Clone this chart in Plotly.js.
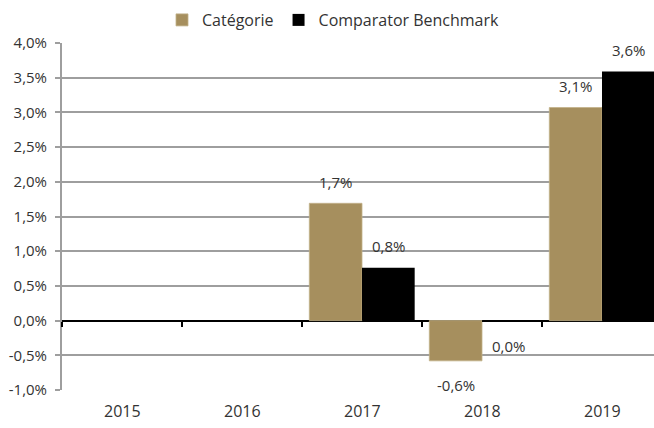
<!DOCTYPE html>
<html>
<head>
<meta charset="utf-8">
<script src="https://cdn.plot.ly/plotly-3.0.1.min.js"></script>
<style>
html,body{margin:0;padding:0;overflow:hidden;background:#fff;}
#chart{width:662px;height:428px;}
</style>
</head>
<body>
<div id="chart"></div>
<script>
const years = ['2015', '2016', '2017', '2018', '2019'];
const categorie = [null, null, 1.69, -0.58, 3.07];
const benchmark = [null, null, 0.76, -0.02, 3.59];
const categorieLabels = ['', '', '1,7%', '-0,6%', '3,1%'];
const benchmarkLabels = ['', '', '0,8%', '0,0%', '3,6%'];
const yTickVals = [-1, -0.5, 0, 0.5, 1, 1.5, 2, 2.5, 3, 3.5, 4];
const yTickText = ['-1,0%', '-0,5%', '0,0%', '0,5%', '1,0%', '1,5%', '2,0%', '2,5%', '3,0%', '3,5%', '4,0%'];

const TAN = '#a68f5e';
const TEXT = '#333333';
const GRID = '#9e9e9e';
const FONT = 'Open Sans, sans-serif';

const W = 662, H = 428;
const margin = {l: 62, r: 0, t: 43, b: 38};
const yMin = -1, yMax = 4;
const bargap = 0.122;
const plotH = H - margin.t - margin.b;
const catW = (W - margin.l - margin.r) / years.length;
const barW = catW * (1 - bargap) / 2;
const zeroFrac = (0 - yMin) / (yMax - yMin);

const traces = [
  {type: 'bar', name: 'Catégorie', x: years, y: categorie,
   marker: {color: TAN, line: {color: '#c2b189', width: 0.8}}, hoverinfo: 'skip'},
  {type: 'bar', name: 'Comparator Benchmark', x: years, y: benchmark,
   marker: {color: '#000000'}, hoverinfo: 'skip'}
];

const annotations = [];
function addLabels(vals, labels, sign) {
  vals.forEach((v, i) => {
    if (v === null || labels[i] === '') return;
    annotations.push({
      x: i, y: v, xref: 'x', yref: 'y', text: labels[i], showarrow: false,
      xanchor: 'center', yanchor: 'middle',
      xshift: sign * barW / 2, yshift: v >= 0 ? 21.5 : -24,
      font: {family: FONT, size: 15, color: TEXT}
    });
  });
}
addLabels(categorie, categorieLabels, -1);
addLabels(benchmark, benchmarkLabels, 1);
// category labels along the bottom of the plot (axis line itself sits at zero)
years.forEach((yr, i) => {
  annotations.push({
    x: i, y: 0, xref: 'x', yref: 'paper', text: yr, showarrow: false,
    xanchor: 'center', yanchor: 'middle', yshift: -21,
    font: {family: FONT, size: 16, color: TEXT}
  });
});

const layout = {
  width: W, height: H, margin: margin,
  paper_bgcolor: '#fff', plot_bgcolor: '#fff',
  barmode: 'group', bargap: bargap, bargroupgap: 0,
  font: {family: FONT, size: 15, color: TEXT},
  showlegend: true,
  legend: {
    orientation: 'h', x: (170 - margin.l - 8) / (W - margin.l), xanchor: 'left',
    y: 1 + (43 - 20) / plotH, yanchor: 'middle',
    font: {family: FONT, size: 16, color: TEXT}, traceorder: 'normal',
    itemwidth: 30, bgcolor: 'rgba(0,0,0,0)'
  },
  xaxis: {
    type: 'category', range: [-0.5, 4.5], showgrid: false, zeroline: false,
    anchor: 'free', position: zeroFrac,
    showline: false, ticks: 'outside', tickson: 'boundaries', ticklen: 5, tickwidth: 2, tickcolor: '#000',
    showticklabels: false, fixedrange: true
  },
  yaxis: {
    range: [yMin, yMax], tickvals: yTickVals, ticktext: yTickText,
    showgrid: true, gridcolor: GRID, gridwidth: 2,
    zeroline: true, zerolinecolor: '#000', zerolinewidth: 2,
    showline: true, linecolor: GRID, linewidth: 2,
    ticks: 'outside', ticklen: 5, tickcolor: GRID, tickwidth: 2,
    tickfont: {family: FONT, size: 15, color: TEXT}, ticklabelstandoff: 5, fixedrange: true
  },
  annotations: annotations
};

Plotly.newPlot('chart', traces, layout, {staticPlot: true, displayModeBar: false});
</script>
</body>
</html>
